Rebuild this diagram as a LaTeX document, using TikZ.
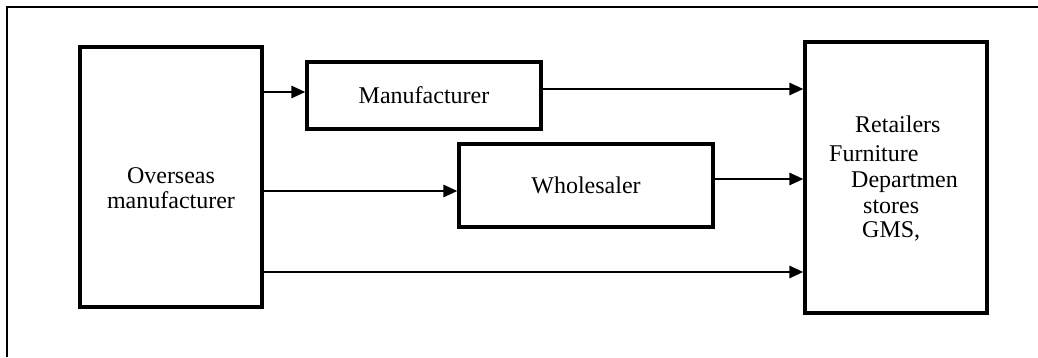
\documentclass[tikz,border=0pt]{standalone}
\usepackage{fontspec}
\setmainfont{Liberation Serif}
\usetikzlibrary{arrows.meta}
\begin{document}
\begin{tikzpicture}[x=1pt,y=-1pt,
  box/.style={draw=black,line width=3.2pt,rectangle,inner sep=0pt,font=\fontsize{24}{25}\selectfont},
  txt/.style={inner sep=0pt,font=\fontsize{24}{25}\selectfont},
  arr/.style={line width=2.6pt,-{Triangle[length=14pt,width=12pt]}},
  frame/.style={line width=2.4pt}]
\useasboundingbox (0,0) rectangle (1038,357);
\fill[white] (0,0) rectangle (1038,357);
\draw[frame] (7,357) -- (7,7) -- (1038,7);
\node[box,minimum width=182pt,minimum height=260pt] (over) at (171,177) {};
\node[txt,align=center] (overt) at (171,188) {Overseas\\manufacturer};
\node[box,minimum width=234pt,minimum height=67pt] (manu) at (424,95.5) {Manufacturer};
\node[box,minimum width=254pt,minimum height=83pt] (whole) at (586,185.5) {Wholesaler};
\node[box,minimum width=182pt,minimum height=271pt] (ret) at (896,177.5) {};
\node[txt,anchor=base west] (r1) at (855,132) {Retailers};
\node[txt,anchor=base west] (r2) at (829,161) {Furniture};
\node[txt,anchor=base west] (r3) at (851,187) {Departmen};
\node[txt,anchor=base west] (r4) at (863,213) {stores};
\node[txt,anchor=base west] (r5) at (862,237) {GMS,};
\draw[arr] (over.east |- 0,92) -- (manu.west |- 0,92);
\draw[arr] (manu.east |- 0,89) -- (ret.west |- 0,89);
\draw[arr] (over.east |- 0,191) -- (whole.west |- 0,191);
\draw[arr] (whole.east |- 0,179) -- (ret.west |- 0,179);
\draw[arr] (over.east |- 0,272) -- (ret.west |- 0,272);
\end{tikzpicture}
\end{document}
